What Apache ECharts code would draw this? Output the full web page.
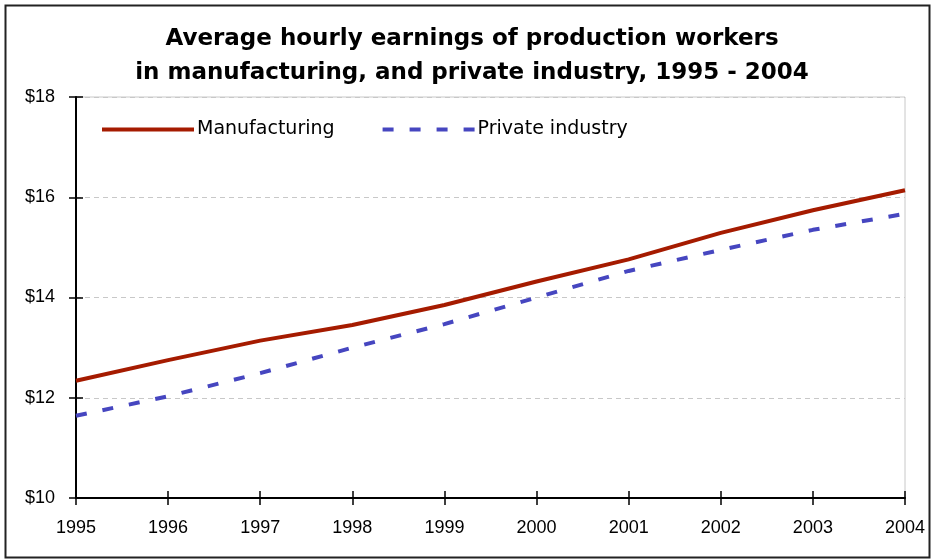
<!DOCTYPE html>
<html>
<head>
<meta charset="utf-8">
<script src="https://cdn.jsdelivr.net/npm/echarts@6/dist/echarts.min.js"></script>
<style>
html,body{margin:0;padding:0;background:#fff;}
#chart{width:931px;height:559px;}
</style>
</head>
<body>
<div id="chart"></div>
<script>
const years = ['1995','1996','1997','1998','1999','2000','2001','2002','2003','2004'];
const manufacturing = [12.34, 12.75, 13.14, 13.45, 13.85, 14.32, 14.76, 15.29, 15.74, 16.14];
const privateIndustry = [11.64, 12.03, 12.49, 13.00, 13.47, 14.00, 14.53, 14.95, 15.35, 15.67];
const titleLines = ['Average hourly earnings of production workers', 'in manufacturing, and private industry, 1995 - 2004'];

const FONT = '"Liberation Sans", Arial, sans-serif';
const WIDE = '"DejaVu Sans", Verdana, sans-serif';
const chart = echarts.init(document.getElementById('chart'));
chart.setOption({
  animation: false,
  backgroundColor: '#fff',
  textStyle: { fontFamily: FONT },
  title: {
    text: titleLines.join('\n'),
    left: 467, top: 17, textAlign: 'center',
    textStyle: { fontFamily: WIDE, fontSize: 23, fontWeight: 'bold', color: '#000', lineHeight: 34 }
  },
  graphic: [{
    type: 'rect', left: 3, top: 3,
    shape: { width: 924, height: 552 },
    style: { fill: 'none', stroke: '#222', lineWidth: 2 }
  }],
  legend: {
    left: 100, top: 120, padding: 0,
    itemWidth: 92, itemHeight: 12, itemGap: 46,
    itemStyle: { color: 'rgba(0,0,0,0)', borderColor: 'rgba(0,0,0,0)', borderWidth: 0 },
    lineStyle: { width: 4 },
    textStyle: { fontFamily: WIDE, fontSize: 19, color: '#000', padding: [0,0,0,-2] },
    data: ['Manufacturing', 'Private industry']
  },
  grid: {
    left: 76, right: 26, top: 97, bottom: 61,
    show: true, borderColor: '#c8c8c8', borderWidth: 1
  },
  xAxis: [{
    type: 'category', data: years, boundaryGap: false,
    axisLine: { lineStyle: { color: '#000', width: 2 } },
    axisTick: { show: true, length: 7, lineStyle: { color: '#000', width: 1.5 } },
    axisLabel: { color: '#000', fontSize: 18, margin: 21, fontFamily: FONT }
  }, {
    type: 'category', data: years, boundaryGap: false, position: 'bottom',
    axisLine: { show: false },
    axisTick: { show: true, inside: true, length: 7, lineStyle: { color: '#000', width: 1.5 } },
    axisLabel: { show: false }
  }],
  yAxis: [{
    type: 'value', min: 10, max: 18, interval: 2,
    axisLine: { show: true, lineStyle: { color: '#000', width: 2 } },
    axisTick: { show: true, length: 7, lineStyle: { color: '#000', width: 1.5 } },
    axisLabel: { color: '#000', fontSize: 18, margin: 21, fontFamily: FONT, formatter: v => '$' + v },
    splitLine: { show: true, lineStyle: { color: '#c8c8c8', type: [5, 4], width: 1 } }
  }, {
    type: 'value', min: 10, max: 18, interval: 2, position: 'left',
    axisLine: { show: false },
    axisTick: { show: true, inside: true, length: 7, lineStyle: { color: '#000', width: 1.5 } },
    axisLabel: { show: false },
    splitLine: { show: false }
  }],
  series: [{
    name: 'Manufacturing', type: 'line', data: manufacturing,
    symbol: 'none', showSymbol: false,
    itemStyle: { color: '#a51b00' },
    lineStyle: { color: '#a51b00', width: 4 }
  }, {
    name: 'Private industry', type: 'line', data: privateIndustry,
    symbol: 'none', showSymbol: false,
    itemStyle: { color: '#4646c0' },
    lineStyle: { color: '#4646c0', width: 4, type: [11, 16] }
  }]
});
</script>
</body>
</html>
